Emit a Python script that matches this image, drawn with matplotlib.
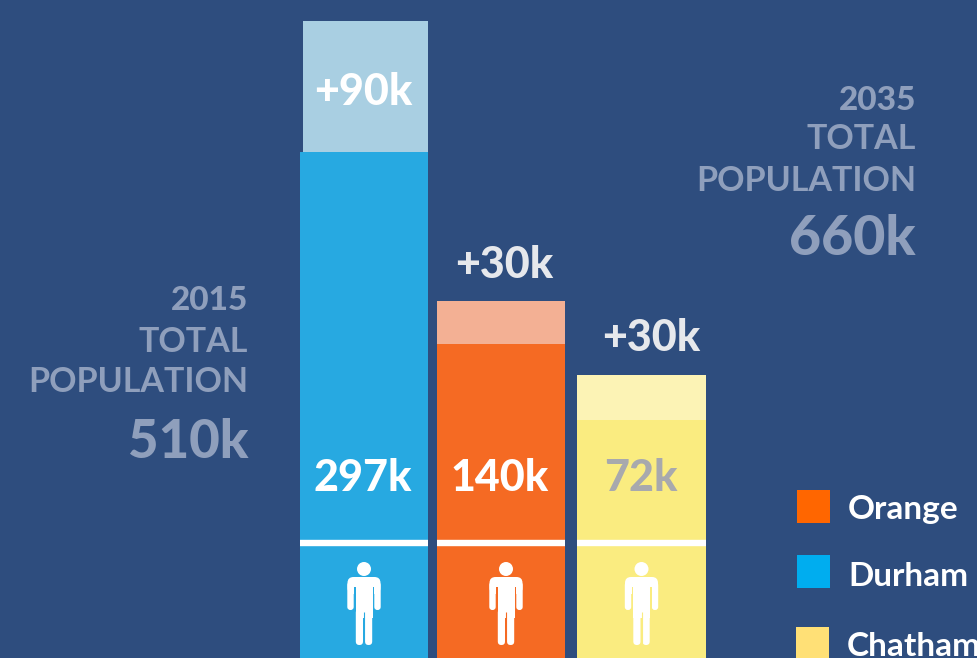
import matplotlib
matplotlib.use('Agg')
import matplotlib.pyplot as plt
import matplotlib.patches as patches

# bar heights are read in pixels above the bottom edge, the picture is not to scale
counties = ['Durham', 'Orange', 'Chatham']
base_labels = ['297k', '140k', '72k']
growth_labels = ['+90k', '+30k', '+30k']
base_heights = [506, 314, 238]
growth_heights = [131, 43, 45]

legend_names = ['Orange', 'Durham', 'Chatham']

bar_left = [300, 437, 577]
bar_width = [128, 128, 129]
growth_left = [302.5, 437, 577]
growth_width = [125.5, 128, 129]
base_colors = ['#27A9E1', '#F56A23', '#FAEC80']
growth_colors = ['#A9CFE2', '#F3B094', '#FCF3B5']
base_text_colors = ['white', 'white', '#A8A9AD']
legend_colors = ['#FF6600', '#00ADEF', '#FFE076']

bg = '#2E4D7E'
side_color = '#8F9FBC'
font = 'Lato'

fig = plt.figure(figsize=(9.78, 6.58), dpi=100, facecolor=bg)
ax = fig.add_axes([0, 0, 1, 1])
ax.set_xlim(0, 978)
ax.set_ylim(0, 658)
ax.axis('off')


def person(cx, fill):
    # little man icon, coordinates relative to the image bottom
    ax.add_patch(patches.Circle((cx, 89), 7, color='white', lw=0))
    # arms and shoulders
    for dx in [-13.5, 13.5]:
        ax.add_patch(patches.FancyBboxPatch((cx + dx - 3.2, 48), 6.4, 28, boxstyle='round,pad=0,rounding_size=3',
                                            color='white', lw=0))
    ax.add_patch(patches.FancyBboxPatch((cx - 16.5, 64), 33, 17, boxstyle='round,pad=0,rounding_size=6',
                                        color='white', lw=0))
    # gap between arms and torso
    ax.add_patch(patches.Rectangle((cx - 10, 47), 20, 24, color=fill, lw=0))
    ax.add_patch(patches.Rectangle((cx - 8.5, 40), 17, 34, color='white', lw=0))
    for dx in [-4.6, 4.6]:
        ax.add_patch(patches.FancyBboxPatch((cx + dx - 3.6, 13), 7.2, 36, boxstyle='round,pad=0,rounding_size=3.5',
                                            color='white', lw=0))
    ax.plot([cx, cx], [13, 46], color=fill, lw=0.8, solid_capstyle='butt')


for i in range(3):
    ax.bar(bar_left[i], base_heights[i], width=bar_width[i], align='edge', color=base_colors[i], lw=0)
    ax.bar(growth_left[i], growth_heights[i], width=growth_width[i], bottom=base_heights[i], align='edge',
           color=growth_colors[i], lw=0)
    # white stripe over the icon
    ax.plot([bar_left[i], bar_left[i] + bar_width[i]], [115.5, 115.5], color='white', lw=4.6, solid_capstyle='butt')
    person([364, 506, 641.5][i], base_colors[i])
    ax.text([362.5, 500, 641][i], 180, base_labels[i], color=base_text_colors[i], fontsize=31, fontweight='black',
            family=font, ha='center', va='center')

ax.text(363, 566, growth_labels[0], color='white', fontsize=31, fontweight='black', family=font,
        ha='center', va='center')
ax.text(504, 393, growth_labels[1], color='#E6E8EC', fontsize=31, fontweight='black', family=font,
        ha='center', va='center')
ax.text(651, 320, growth_labels[2], color='#E6E8EC', fontsize=31, fontweight='black', family=font,
        ha='center', va='center')

# side captions
ax.text(248, 357, '2015', color=side_color, fontsize=24, fontweight='black', family=font, ha='right', va='center')
ax.text(248, 316, 'TOTAL', color=side_color, fontsize=24.5, fontweight='bold', family=font, ha='right', va='center')
ax.text(248, 276, 'POPULATION', color=side_color, fontsize=24.5, fontweight='bold', family=font, ha='right', va='center')
ax.text(248, 215, '510k', color=side_color, fontsize=38, fontweight='black', family=font, ha='right', va='center')

ax.text(916, 558, '2035', color=side_color, fontsize=24, fontweight='black', family=font, ha='right', va='center')
ax.text(916, 519, 'TOTAL', color=side_color, fontsize=24.5, fontweight='bold', family=font, ha='right', va='center')
ax.text(916, 477, 'POPULATION', color=side_color, fontsize=24.5, fontweight='bold', family=font, ha='right', va='center')
ax.text(916, 419, '660k', color=side_color, fontsize=40, fontweight='black', family=font, ha='right', va='center')

# legend, runs off the right edge like the original
legend_x = [797, 797, 796]
legend_y = [135, 70, -2]
text_y = [148, 82, 12]
legend_text_x = [848, 848, 847]
for i in range(3):
    ax.add_patch(patches.Rectangle((legend_x[i], legend_y[i]), 33, 33, color=legend_colors[i], lw=0))
    ax.text(legend_text_x[i], text_y[i], legend_names[i], color='white', fontsize=24, fontweight='bold', family=font,
            ha='left', va='center', clip_on=True)

fig.savefig('out.png', dpi=100, facecolor=bg)
